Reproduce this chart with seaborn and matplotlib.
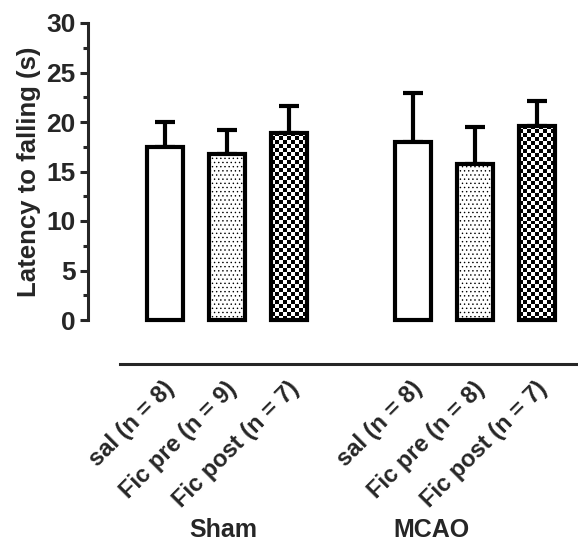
import numpy as np
import pandas as pd
import matplotlib
matplotlib.use("Agg")
import matplotlib.pyplot as plt
import matplotlib.transforms as mtransforms
import seaborn as sns

# values
labels = ["sal (n = 8)", "Fic pre (n = 9)", "Fic post (n = 7)",
          "sal (n = 8) ", "Fic pre (n = 8)", "Fic post (n = 7) "]
groups = ["Sham", "Sham", "Sham", "MCAO", "MCAO", "MCAO"]
means = [17.5, 16.8, 18.9, 18.0, 15.8, 19.6]
sems = [2.5, 2.4, 2.7, 4.9, 3.7, 2.5]
treatment = ["sal", "pre", "post", "sal", "pre", "post"]

df = pd.DataFrame({"label": labels, "group": groups, "mean": means})
order = labels[:3] + [""] + labels[3:]

sns.set_style("ticks")
plt.rcParams["font.family"] = ["Liberation Sans", "DejaVu Sans"]
plt.rcParams["font.weight"] = "bold"
plt.rcParams["hatch.color"] = "black"
plt.rcParams["hatch.linewidth"] = 0.5

fig = plt.figure(figsize=(5.78, 5.44), dpi=100)
ax = fig.add_axes([88 / 578, (544 - 320) / 544, 1 - 88 / 578, 297 / 544])

sns.barplot(data=df, x="label", y="mean", order=order, color="white",
            width=0.58, edgecolor="black", linewidth=3, ax=ax, errorbar=None)

bars = [p for p in ax.patches if p.get_height() > 0]
xs = [p.get_x() + p.get_width() / 2 for p in bars]
ax.errorbar(xs, means, yerr=[np.zeros(len(sems)), sems], fmt="none",
            ecolor="black", elinewidth=3, capsize=7.2, capthick=3, zorder=1)

ax.set_xlim(-1.242, 6.661)
ax.set_ylim(0, 30)

for p, t in zip(bars, treatment):
    p.set_clip_on(False)
    p.set_zorder(3)
    if t == "pre":
        p.set_hatch("....")
    elif t == "post":
        p.set_facecolor("none")
        x0, y0 = p.get_x(), 0
        x1, y1 = p.get_x() + p.get_width(), p.get_height()
        (px0, py0), (px1, py1) = ax.transData.transform([(x0, y0), (x1, y1)])
        nx = max(1, int(round((px1 - px0) / 4)))
        ny = max(1, int(round((py1 - py0) / 4)))
        board = np.indices((ny, nx)).sum(axis=0) % 2
        im = ax.imshow(board, cmap="gray_r", extent=(x0, x1, y0, y1),
                       aspect="auto", interpolation="nearest", zorder=2,
                       origin="lower")
        im.set_clip_path(p)

ax.set_xlim(-1.242, 6.661)
ax.set_ylim(0, 30)
ax.set_aspect("auto")

# y axis
ax.set_yticks(np.arange(0, 31, 5))
ax.set_yticks(np.arange(0, 31, 2.5), minor=True)
ax.tick_params(axis="y", which="major", length=6, width=2.2, labelsize=19, pad=3)
ax.tick_params(axis="y", which="minor", length=3.5, width=2.2)
ax.set_ylabel("Latency to falling (s)", fontsize=18.5, fontweight="bold", labelpad=4)
ax.spines["left"].set_linewidth(2.2)

# bottom line below the bars
sns.despine(ax=ax)
ax.spines["bottom"].set_position(("outward", 32))
ax.spines["bottom"].set_bounds(-0.726, 6.661)
ax.spines["bottom"].set_linewidth(2.2)
ax.set_xlabel("")
ax.set_xticks(range(len(order)))
ax.set_xticklabels([s.strip() for s in order])
ax.tick_params(axis="x", length=0, pad=15, labelsize=17)
offset = mtransforms.ScaledTranslation(6 / 100, 0, fig.dpi_scale_trans)
for lab in ax.get_xticklabels():
    lab.set_rotation(45)
    lab.set_ha("right")
    lab.set_va("center")
    lab.set_rotation_mode("anchor")
    lab.set_fontweight("bold")
    lab.set_transform(lab.get_transform() + offset)

trans = mtransforms.blended_transform_factory(ax.transData, fig.transFigure)
ax.text(0.944, 2 / 544, "Sham", transform=trans, ha="center",
        va="bottom", fontsize=18, fontweight="bold")
ax.text(4.29, 2 / 544, "MCAO", transform=trans, ha="center",
        va="bottom", fontsize=18, fontweight="bold")

plt.savefig("out.png", dpi=100)
